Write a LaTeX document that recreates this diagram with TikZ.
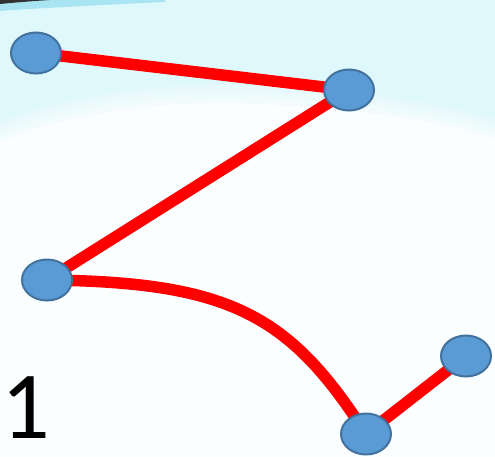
\documentclass[tikz,border=0pt]{standalone}
\usepackage{xcolor}
\usepackage{fontspec}
\setmainfont{Carlito}
\usepackage{tikz}
\usetikzlibrary{shapes.geometric, positioning, backgrounds}
\definecolor{skycyan}{HTML}{DFF8FC}
\definecolor{snowwhite}{HTML}{FAFEFF}
\definecolor{streakblue}{HTML}{A8E4F2}
\definecolor{stopblue}{HTML}{5B9BD5}
\definecolor{stopedge}{HTML}{41719C}
\definecolor{trailred}{HTML}{FF0000}
\pgfdeclarelayer{edges}
\pgfsetlayers{background,edges,main}

\begin{document}
\begin{tikzpicture}[x=1pt, y=-1pt,
  stop/.style={ellipse, fill=stopblue, draw=stopedge, line width=2pt,
    minimum width=50pt, minimum height=41pt, inner sep=0pt},
  trail/.style={trailred, line width=11.5pt},
  hill/.style={snowwhite, opacity=0.3}]
  \useasboundingbox (0,0) rectangle (495,456);

  \begin{pgfonlayer}{background}
    % Sky
    \fill[skycyan] (0,0) rectangle (495,456);
    % Streaks at the top edge
    \fill[streakblue] (0,0) -- (165,0) -- (165,2) .. controls (100,5) and (40,8) .. (0,11) -- cycle;
    \fill[black!80] (0,0) -- (50,0) .. controls (35,1) and (20,2) .. (0,4) -- cycle;
    % Snow hill, soft edge
    \foreach \w in {36,26,16,8}
      \draw[hill, line width=\w pt] (0,142) .. controls (80,108) and (180,100) .. (260,104) .. controls (340,108) and (430,118) .. (495,138);
    \fill[snowwhite] (0,142) .. controls (80,108) and (180,100) .. (260,104) .. controls (340,108) and (430,118) .. (495,138) -- (495,456) -- (0,456) -- cycle;
  \end{pgfonlayer}

  % Stops
  \foreach \name/\x/\y in {a/36/53, b/349/90, c/47/280, d/366/434, e/466/356}
    \node[stop] (\name) at (\x,\y) {};

  % Trail
  \begin{pgfonlayer}{edges}
    \draw[trail] (a.center) -- (b.center) -- (c.center);
    \draw[trail] (c.center) .. controls (230,282) and (290,315) .. (d.center);
    \draw[trail] (d.center) -- (e.center);
  \end{pgfonlayer}

  % Number
  \node[anchor=base west, inner sep=0pt, font=\fontsize{96}{96}\selectfont] (num) at (1,438) {1};
\end{tikzpicture}
\end{document}
